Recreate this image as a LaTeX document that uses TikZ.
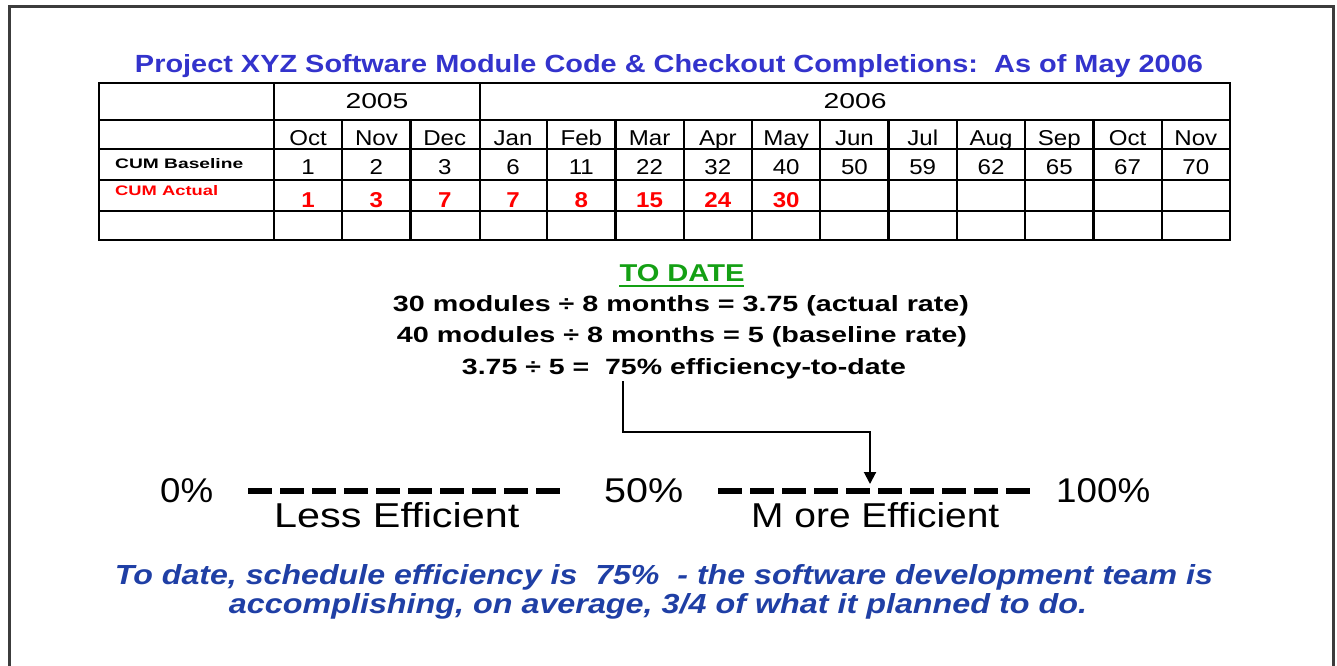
\documentclass[tikz,border=0pt]{standalone}
\usepackage{fontspec}
\setmainfont{Liberation Sans}
\usetikzlibrary{arrows.meta}
\definecolor{titleblue}{RGB}{51,51,204}
\definecolor{notegreen}{RGB}{20,160,20}
\definecolor{noteblue}{RGB}{31,63,165}
\definecolor{framegray}{RGB}{60,60,60}
\newcommand{\fitt}[3]{\resizebox{#1pt}{#2pt}{#3}}
\newcommand{\cx}[1]{\scalebox{1.12}[1]{#1}}
\begin{document}
\begin{tikzpicture}[x=1pt,y=-1pt,
  txt/.style={inner sep=0pt, anchor=base},
  cell/.style={txt, font=\fontsize{21.5}{21.5}\selectfont},
  actcell/.style={cell, text=red, font=\fontsize{21.5}{21.5}\selectfont\bfseries},
  grid/.style={line width=2.2pt, black},
  dashline/.style={line width=6pt, dash pattern=on 24pt off 8pt},
  pointer/.style={line width=2pt, -{Triangle[length=12pt,width=12pt]}}
]
\useasboundingbox (0,0) rectangle (1337,665);
% frame
\draw[framegray, line width=3pt] (9,668) -- (9,6) -- (1333,6) -- (1333,668);
% title
\node[txt, text=titleblue, font=\bfseries] (title) at (669,72) {\fitt{1068}{18}{Project XYZ Software Module Code \& Checkout Completions:\ \ As of May 2006}};
% table grid
\draw[grid] (99,83) rectangle (1230,240);
\foreach \yy in {120,149,180,211} \draw[grid] (99,\yy) -- (1230,\yy);
\draw[grid] (274,83) -- (274,240);
\draw[grid] (480,83) -- (480,240);
\foreach \i in {1,2,4,5,6,7,8,9,10,11,12,13}
  \draw[grid] ({274+68.2857*\i},120) -- ({274+68.2857*\i},240);
% years
\node[txt] (y2005) at (377,108) {\fitt{63}{15}{2005}};
\node[txt] (y2006) at (855,108) {\fitt{63}{15}{2006}};
% months
\foreach \m [count=\i] in {Oct,Nov,Dec,Jan,Feb,Mar,Apr,May,Jun,Jul,Aug,Sep,Oct,Nov}
  \node[cell] (mon\i) at ({274+68.2857*(\i-0.5)},145) {\cx{\m}};
% baseline values
\foreach \v [count=\i] in {1,2,3,6,11,22,32,40,50,59,62,65,67,70}
  \node[cell] (base\i) at ({274+68.2857*(\i-0.5)},174) {\cx{\v}};
% actual values
\foreach \v [count=\i] in {1,3,7,7,8,15,24,30}
  \node[actcell] (act\i) at ({274+68.2857*(\i-0.5)},207) {\cx{\v}};
% row labels
\node[txt, anchor=base west, font=\bfseries] (lbase) at (115,168) {\fitt{128}{10}{CUM Baseline}};
\node[txt, anchor=base west, font=\bfseries, text=red] (lact) at (115,195) {\fitt{103}{10}{CUM Actual}};
% to date
\node[txt, text=notegreen, font=\bfseries] (todate) at (682,281) {\fitt{125}{17}{TO DATE}};
\draw[notegreen, line width=2pt] (todate.base west) ++(0,5) -- ++(125,0);
\node[txt, font=\bfseries] (l1) at (681,311) {\fitt{576}{16}{30 modules ÷ 8 months = 3.75 (actual rate)}};
\node[txt, font=\bfseries] (l2) at (682,342) {\fitt{570}{16}{40 modules ÷ 8 months = 5 (baseline rate)}};
\node[txt, font=\bfseries] (l3) at (684,374) {\fitt{444}{16}{3.75 ÷ 5 = \ 75\% efficiency-to-date}};
% arrow
\coordinate (arrS) at (623,381);
\coordinate (arrE) at (870,484);
\draw[pointer] (arrS) -- (623,432) -| (arrE);
% scale
\node[txt, anchor=base west] (p0) at (160,502) {\fitt{53}{24}{0\%}};
\node[txt, anchor=base west] (p50) at (604,502) {\fitt{79}{24}{50\%}};
\node[txt, anchor=base west] (p100) at (1056,502) {\fitt{94}{24}{100\%}};
\coordinate (dl1) at (248,491);
\coordinate (dl2) at (564,491);
\coordinate (dr1) at (718,491);
\coordinate (dr2) at (1034,491);
\draw[dashline] (dl1) -- (dl2);
\draw[dashline] (dr1) -- (dr2);
\node[txt, anchor=base west] (less) at (274,527) {\fitt{245}{25}{Less Efficient}};
\node[txt, anchor=base west] (more) at (751,527) {\fitt{248}{25}{M ore Efficient}};
% note
\node[txt, text=noteblue, font=\bfseries\itshape] (n1) at (664,584) {\fitt{1098}{20}{To date, schedule efficiency is\ \ 75\%\ \ - the software development team is}};
\node[txt, text=noteblue, font=\bfseries\itshape] (n2) at (658,613) {\fitt{858}{20}{accomplishing, on average, 3/4 of what it planned to do.}};
\end{tikzpicture}
\end{document}
